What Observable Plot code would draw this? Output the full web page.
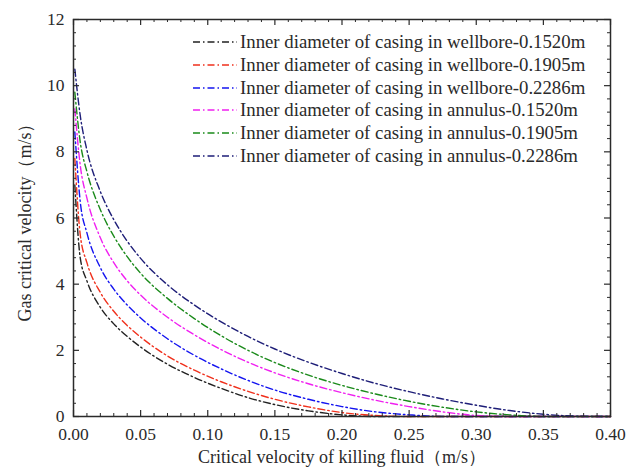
<!DOCTYPE html>
<html>
<head>
<meta charset="utf-8">
<script src="https://cdn.jsdelivr.net/npm/d3@7"></script>
<script src="https://cdn.jsdelivr.net/npm/@observablehq/plot@0.6"></script>
<style>
  body { margin: 0; background: #fff; }
  #wrap { position: relative; width: 638px; height: 471px; background: #fff; }
  #legend { position: absolute; left: 193px; top: 30.6px; font-family: "Liberation Serif", "Times New Roman", serif; font-size: 18.8px; color: #2a2a2a; }
  .row { display: flex; align-items: center; height: 22.8px; white-space: nowrap; }
  .row svg { margin-right: 3px; }
</style>
</head>
<body>
<div id="wrap"><div id="legend"></div></div>
<script>
// Critical velocity of killing fluid (m/s)
const xs = [0.001, 0.005, 0.01, 0.02, 0.03, 0.04, 0.05, 0.07, 0.09, 0.11, 0.13, 0.15, 0.175, 0.20, 0.225, 0.25, 0.275, 0.30, 0.325, 0.35, 0.375, 0.40];

// Gas critical velocity (m/s) for each case
const wellbore1520 = [7.0, 4.8, 4.1, 3.3, 2.8, 2.42, 2.1, 1.58, 1.18, 0.85, 0.57, 0.36, 0.17, 0.05, 0, 0, 0, 0, 0, 0, 0, 0];
const wellbore1905 = [7.8, 5.5, 4.65, 3.75, 3.18, 2.75, 2.4, 1.83, 1.4, 1.05, 0.76, 0.52, 0.29, 0.12, 0.03, 0, 0, 0, 0, 0, 0, 0];
const wellbore2286 = [8.6, 6.5, 5.55, 4.5, 3.85, 3.37, 2.98, 2.35, 1.85, 1.44, 1.09, 0.8, 0.52, 0.3, 0.14, 0.05, 0, 0, 0, 0, 0, 0];
const annulus1520  = [9.3, 7.6, 6.6, 5.4, 4.65, 4.1, 3.67, 3.0, 2.47, 2.02, 1.64, 1.32, 0.99, 0.72, 0.49, 0.3, 0.14, 0.03, 0, 0, 0, 0];
const annulus1905  = [9.8, 8.3, 7.4, 6.25, 5.45, 4.83, 4.33, 3.57, 2.96, 2.44, 2.0, 1.63, 1.25, 0.94, 0.68, 0.46, 0.28, 0.14, 0.05, 0, 0, 0];
const annulus2286  = [10.5, 9.1, 8.05, 6.8, 5.95, 5.3, 4.78, 3.98, 3.37, 2.86, 2.42, 2.04, 1.64, 1.3, 1.0, 0.75, 0.53, 0.34, 0.18, 0.07, 0.01, 0];

const seriesNames = [
  "Inner diameter of casing in wellbore-0.1520m",
  "Inner diameter of casing in wellbore-0.1905m",
  "Inner diameter of casing in wellbore-0.2286m",
  "Inner diameter of casing in annulus-0.1520m",
  "Inner diameter of casing in annulus-0.1905m",
  "Inner diameter of casing in annulus-0.2286m"
];
const seriesColors = ["#222222", "#f0301c", "#1414f0", "#f020f0", "#1a8a1a", "#1e1e78"];
const seriesValues = [wellbore1520, wellbore1905, wellbore2286, annulus1520, annulus1905, annulus2286];

const xMajor = [0, 0.05, 0.10, 0.15, 0.20, 0.25, 0.30, 0.35, 0.40];
const xMinor = d3.range(0, 41).map(i => i / 100).filter(v => Math.round(v * 100) % 5 !== 0);
const yMajor = [0, 2, 4, 6, 8, 10, 12];
const yMinor = d3.range(0, 31).map(i => +(i * 0.4).toFixed(1)).filter(v => Math.abs(v / 2 - Math.round(v / 2)) > 1e-6);

const rows = seriesValues.flatMap((vals, s) => xs.map((x, i) => ({x, y: vals[i], name: seriesNames[s]})));

const W = 638, H = 471, mt = 19, mb = 55, ml = 73, mr = 28;
const ih = H - mt - mb, iw = W - ml - mr;
const dash = "7,3,1.5,3";
const ink = "#2a2a2a";

const chart = Plot.plot({
  width: W, height: H,
  marginTop: mt, marginBottom: mb, marginLeft: ml, marginRight: mr,
  style: {fontFamily: "'Liberation Serif', 'Times New Roman', serif", fontSize: "18px", background: "white", color: ink},
  x: {domain: [0, 0.4]},
  y: {domain: [0, 12]},
  color: {domain: seriesNames, range: seriesColors},
  marks: [
    Plot.line(rows, {x: "x", y: "y", z: "name", stroke: "name", strokeWidth: 1.4, strokeDasharray: dash, curve: "monotone-x"}),
    // inward ticks on all four sides
    Plot.tickX(xMajor, {x: d => d, insetTop: ih - 6, stroke: ink, strokeWidth: 1.2}),
    Plot.tickX(xMajor, {x: d => d, insetBottom: ih - 6, stroke: ink, strokeWidth: 1.2}),
    Plot.tickX(xMinor, {x: d => d, insetTop: ih - 3, stroke: ink, strokeWidth: 1}),
    Plot.tickX(xMinor, {x: d => d, insetBottom: ih - 3, stroke: ink, strokeWidth: 1}),
    Plot.tickY(yMajor, {y: d => d, insetRight: iw - 6, stroke: ink, strokeWidth: 1.2}),
    Plot.tickY(yMajor, {y: d => d, insetLeft: iw - 6, stroke: ink, strokeWidth: 1.2}),
    Plot.tickY(yMinor, {y: d => d, insetRight: iw - 3, stroke: ink, strokeWidth: 1}),
    Plot.tickY(yMinor, {y: d => d, insetLeft: iw - 3, stroke: ink, strokeWidth: 1}),
    Plot.axisX({ticks: xMajor, tickSize: 0, tickPadding: 11, tickFormat: d => d.toFixed(2), fontSize: 17.5,
      label: null}),
    Plot.axisX({ticks: [], tickSize: 0, fontSize: 18,
      label: "Critical velocity of killing fluid（m/s）", labelAnchor: "center", labelArrow: "none", labelOffset: 46}),
    Plot.axisY({ticks: yMajor, tickSize: 0, tickPadding: 9, tickFormat: d => String(d), fontSize: 17.5,
      label: null}),
    Plot.axisY({ticks: [], tickSize: 0, fontSize: 18,
      label: "Gas critical velocity（m/s）", labelAnchor: "center", labelArrow: "none", labelOffset: 55}),
    Plot.frame({stroke: ink, strokeWidth: 1.5})
  ]
});

const wrap = document.getElementById("wrap");
wrap.insertBefore(chart, wrap.firstChild);

const legend = document.getElementById("legend");
seriesNames.forEach((name, i) => {
  const row = document.createElement("div");
  row.className = "row";
  row.innerHTML = `<svg width="44" height="10"><line x1="0" y1="5" x2="44" y2="5" stroke="${seriesColors[i]}" stroke-width="1.4" stroke-dasharray="${dash}"/></svg><span>${name}</span>`;
  legend.appendChild(row);
});
</script>
</body>
</html>
